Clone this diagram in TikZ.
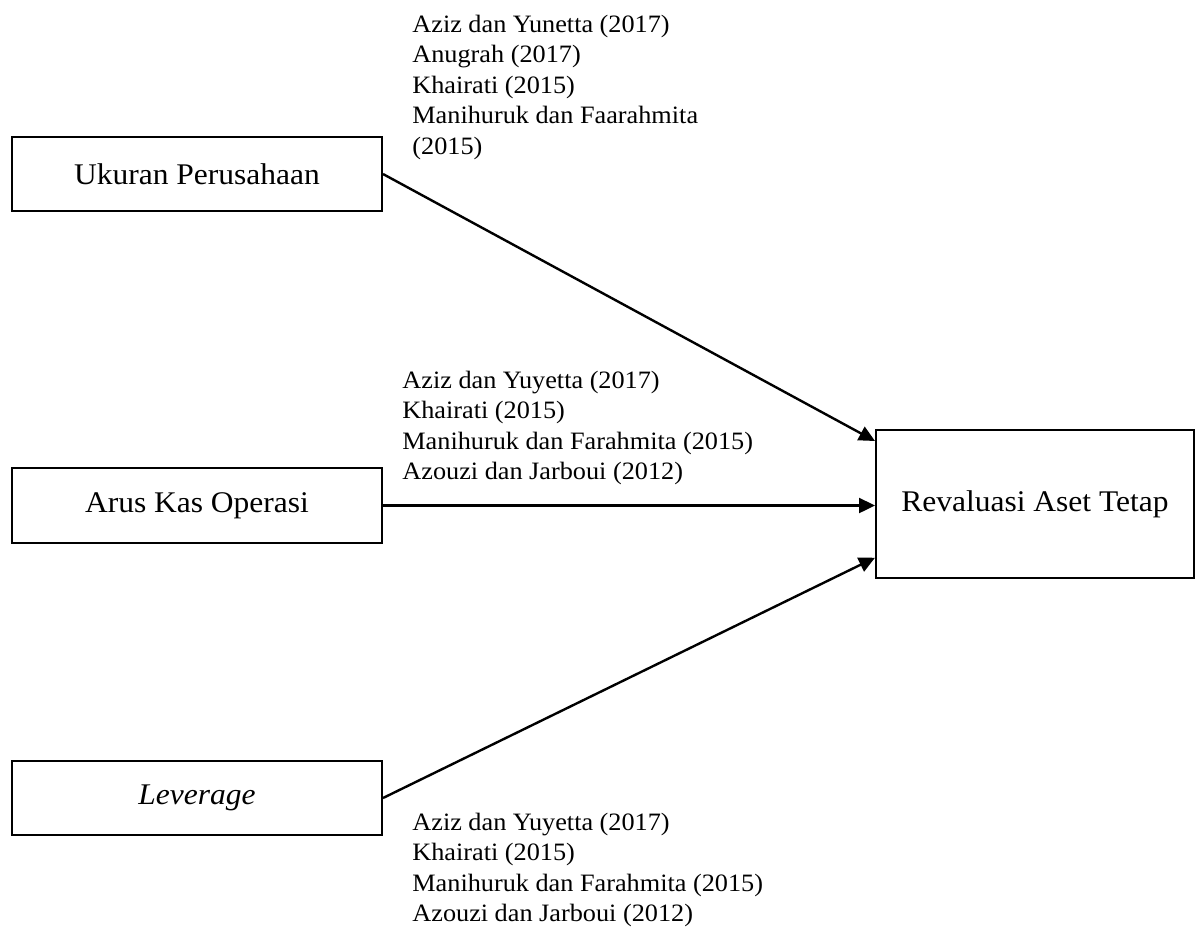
\documentclass[tikz,border=0pt]{standalone}
\usepackage{fontspec}
\setmainfont{Liberation Serif}[FakeStretch=1.05]
\usetikzlibrary{arrows.meta,calc}
\tikzset{
  varbox/.style={draw, line width=1pt, minimum width=185pt, inner sep=0pt,
    font={\fontsize{15}{17}\selectfont}},
  refs/.style={anchor=north west, inner sep=0pt, align=left,
    font={\fontsize{12.5}{15.25}\selectfont}},
  arr/.style={line width=1.2pt, -{Triangle[length=8pt,width=7.5pt]}}
}
\begin{document}
\begin{tikzpicture}[x=0.5pt,y=-0.5pt]
\useasboundingbox (0,0) rectangle (1200,928);
\node[varbox, minimum height=37pt] (u) at (197,174) {Ukuran Perusahaan};
\node[varbox, minimum height=37.5pt] (a) at (197,505.5) {Arus Kas Operasi};
\node[varbox, minimum height=37pt] (l) at (197,798) {\textit{Leverage}};
\node[varbox, minimum width=159pt, minimum height=74pt] (r) at (1035,504) {Revaluasi Aset Tetap};
\node[refs] (t1) at (412,14.7) {Aziz dan Yunetta (2017)\\Anugrah (2017)\\Khairati (2015)\\Manihuruk dan Faarahmita\\(2015)};
\node[refs] (t2) at (402,370.7) {Aziz dan Yuyetta (2017)\\Khairati (2015)\\Manihuruk dan Farahmita (2015)\\Azouzi dan Jarboui (2012)};
\node[refs] (t3) at (412,812.7) {Aziz dan Yuyetta (2017)\\Khairati (2015)\\Manihuruk dan Farahmita (2015)\\Azouzi dan Jarboui (2012)};
\draw[arr] (u.east) -- ($(r.north west)!0.08!(r.south west)$);
\draw[arr] (a.east) -- (a.east -| r.west);
\draw[arr] (l.east) -- ($(r.north west)!0.858!(r.south west)$);
\end{tikzpicture}
\end{document}
